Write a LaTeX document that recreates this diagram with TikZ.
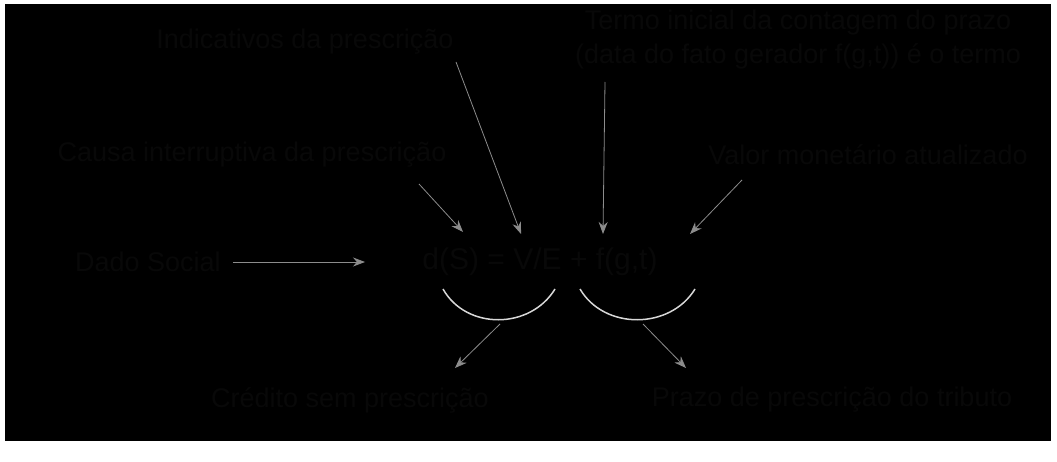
\documentclass[tikz,border=0pt]{standalone}
\usepackage{fontspec}
\setmainfont{Liberation Sans}
\usetikzlibrary{
  arrows.meta,
  positioning
}
\definecolor{boardblack}{RGB}{0,0,0}
\definecolor{inkblack}{RGB}{8,8,8}
\definecolor{pointergrey}{RGB}{140,140,140}
\definecolor{bracewhite}{RGB}{215,215,215}
\tikzset{
  termlabel/.style={
    text=inkblack,
    align=center,
    inner sep=2pt,
    font=\fontsize{27}{34}\selectfont
  },
  pointer/.style={-{Stealth[length=12pt,width=9pt]},draw=pointergrey,line width=0.8pt},
  underarc/.style={draw=bracewhite,line width=1.5pt},
}

\begin{document}
\begin{tikzpicture}[x=1pt,y=-1pt]
  \fill[white] (0,0) rectangle (1057,462);
  \fill[boardblack] (5,4) rectangle (1051,441);
  \useasboundingbox (0,0) rectangle (1057,462);

  \node[termlabel,font=\fontsize{30}{36}\selectfont] (formula) at (540,262) {d(S) = V/E + f(g,t)};
  \node[termlabel] (dado) at (148,262) {Dado Social};
  \node[termlabel] (indic) at (305,42) {Indicativos da prescrição};
  \node[termlabel] (termo) at (798,40) {Termo inicial da contagem do prazo\\(data do fato gerador f(g,t)) é o termo};
  \node[termlabel] (causa) at (252,155) {Causa interruptiva da prescrição};
  \node[termlabel] (valor) at (868,155) {Valor monetário atualizado};
  \node[termlabel] (credito) at (350,400) {Crédito sem prescrição};
  \node[termlabel] (prazo) at (832,400) {Prazo de prescrição do tributo};

  % tails and tips of the pointers
  \coordinate (indictail) at (456,62);
  \coordinate (dS) at (521,234);
  \coordinate (causatail) at (419,184);
  \coordinate (VE) at (463,232);
  \coordinate (termotail) at (605,82);
  \coordinate (gt) at (603,234);
  \coordinate (valortail) at (742,180);
  \coordinate (tt) at (690,234);
  \coordinate (leftdip) at (500,324);
  \coordinate (credtip) at (455,368);
  \coordinate (rightdip) at (643,324);
  \coordinate (prazotip) at (686,368);

  \draw[pointer] (dado.east) ++(10,0) -- (365,262);
  \draw[pointer] (indictail) -- (dS);
  \draw[pointer] (causatail) -- (VE);
  \draw[pointer] (termotail) -- (gt);
  \draw[pointer] (valortail) -- (tt);

  % arcs under the formula
  \draw[underarc] (443,289) .. controls (466,330) and (530,330) .. (555,289);
  \draw[underarc] (580,289) .. controls (604,330) and (670,330) .. (695,289);
  \draw[pointer] (leftdip) -- (credtip);
  \draw[pointer] (rightdip) -- (prazotip);
\end{tikzpicture}
\end{document}
